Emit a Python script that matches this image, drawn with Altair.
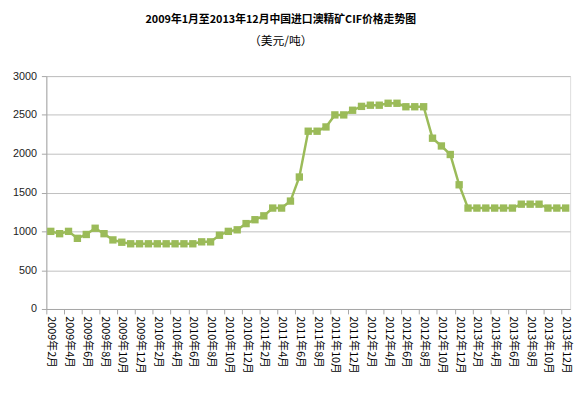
import json
import altair as alt
import pandas as pd

months = [
    "2009年2月", "2009年3月", "2009年4月", "2009年5月", "2009年6月", "2009年7月",
    "2009年8月", "2009年9月", "2009年10月", "2009年11月", "2009年12月",
    "2010年1月", "2010年2月", "2010年3月", "2010年4月", "2010年5月", "2010年6月",
    "2010年7月", "2010年8月", "2010年9月", "2010年10月", "2010年11月", "2010年12月",
    "2011年1月", "2011年2月", "2011年3月", "2011年4月", "2011年5月", "2011年6月",
    "2011年7月", "2011年8月", "2011年9月", "2011年10月", "2011年11月", "2011年12月",
    "2012年1月", "2012年2月", "2012年3月", "2012年4月", "2012年5月", "2012年6月",
    "2012年7月", "2012年8月", "2012年9月", "2012年10月", "2012年11月", "2012年12月",
    "2013年1月", "2013年2月", "2013年3月", "2013年4月", "2013年5月", "2013年6月",
    "2013年7月", "2013年8月", "2013年9月", "2013年10月", "2013年11月", "2013年12月",
]

prices = [
    1000, 970, 1000, 910, 960, 1040, 970, 890, 860, 840,
    840, 840, 840, 840, 840, 840, 840, 865, 865, 950,
    1000, 1020, 1100, 1150, 1200, 1300, 1300, 1390, 1700, 2290,
    2290, 2345, 2500, 2500, 2560, 2610, 2625, 2625, 2650, 2650,
    2605, 2605, 2605, 2200, 2100, 1990, 1600, 1300, 1300, 1300,
    1300, 1300, 1300, 1350, 1350, 1350, 1300, 1300, 1300,
]

y_ticks = [0, 500, 1000, 1500, 2000, 2500, 3000]

n = len(months)
df = pd.DataFrame({"idx": list(range(n)), "month": months, "price": prices})

label_vals = list(range(0, n, 2))
tick_vals = [k - 0.5 for k in range(0, n, 2)]
axis_vals = sorted(label_vals + tick_vals)
label_expr = ("datum.value % 1 == 0 ? " + json.dumps(months, ensure_ascii=False)
              + "[datum.value] : ''")

green = "#9BBB59"
cjk = "Noto Sans CJK SC"

chart = alt.Chart(df).mark_line(
    color=green, strokeWidth=2.5,
    point=alt.OverlayMarkDef(shape="square", size=56, filled=True, color=green, opacity=1),
).encode(
    x=alt.X("idx:Q",
            scale=alt.Scale(domain=[-0.5, n - 0.5], nice=False, zero=False),
            axis=alt.Axis(values=axis_vals, labelExpr=label_expr, labelAngle=90,
                          labelOverlap=False, labelFont=cjk, labelFontSize=11,
                          labelColor="#000000", labelPadding=2, grid=False,
                          tickSize=5, tickColor="#A6A6A6", domainColor="#A6A6A6",
                          tickOpacity={"condition": {"test": "datum.value % 1 != 0", "value": 1}, "value": 0},
                          title=None)),
    y=alt.Y("price:Q",
            scale=alt.Scale(domain=[0, 3000], nice=False),
            axis=alt.Axis(values=y_ticks, format="d", labelFont="Liberation Sans",
                          labelFontSize=11, labelColor="#222222", labelPadding=5,
                          tickSize=5, tickColor="#A6A6A6", domainColor="#A6A6A6",
                          gridColor="#BFBFBF", gridWidth=1, title=None)),
).properties(
    width=533, height=237,
    padding={"left": 4, "top": 3, "right": 5, "bottom": 5},
    title=alt.TitleParams(
        text="2009年1月至2013年12月中国进口澳精矿CIF价格走势图",
        subtitle="（美元/吨）",
        font=cjk, fontSize=11, fontWeight="bold", color="#000000",
        subtitleFont=cjk, subtitleFontSize=12, subtitleColor="#000000",
        subtitlePadding=11, anchor="middle", dx=-28, offset=24,
    ),
).configure_view(stroke=None).configure(background="white")

chart.save("out.html", embed_options={"renderer": "svg", "actions": False})
